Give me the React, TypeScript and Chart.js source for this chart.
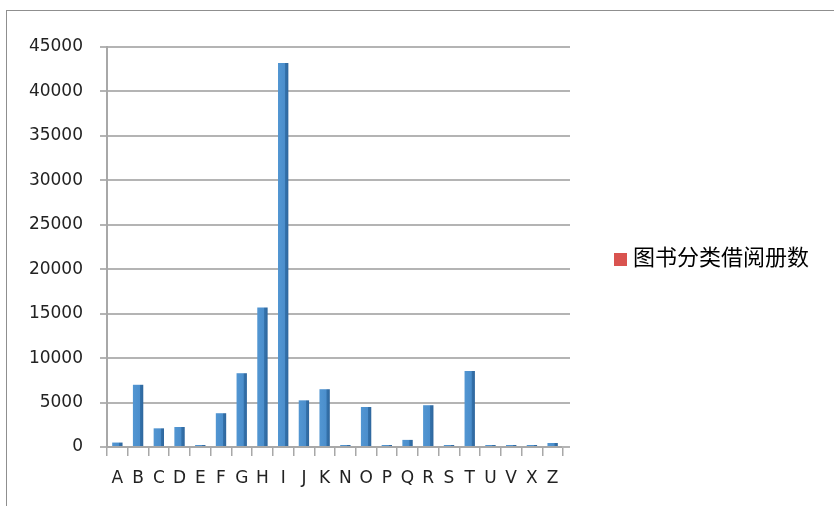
import React, { useEffect, useRef } from "react";
import { Chart, registerables } from "chart.js";

Chart.register(...registerables);

const categories = ["A", "B", "C", "D", "E", "F", "G", "H", "I", "J", "K", "N", "O", "P", "Q", "R", "S", "T", "U", "V", "X", "Z"];
const borrowCounts = [500, 7000, 2100, 2250, 150, 3800, 8300, 15700, 43200, 5250, 6500, 200, 4500, 150, 800, 4700, 200, 8550, 100, 50, 150, 450];
const seriesLabel = "图书分类借阅册数";
const yMax = 45000;
const yStep = 5000;

const framePlugin = {
  id: "frame",
  beforeDraw(chart: any) {
    const ctx = chart.ctx;
    ctx.save();
    ctx.fillStyle = "#ffffff";
    ctx.fillRect(0, 0, chart.width, chart.height);
    ctx.strokeStyle = "#8f8f8f";
    ctx.lineWidth = 1;
    ctx.strokeRect(6.5, 10.5, 2000, 2000);
    ctx.restore();
  },
  beforeDatasetsDraw(chart: any) {
    // extend the back-wall gridlines a little past the category axis (3D depth)
    const ctx = chart.ctx;
    const y = chart.scales.y;
    const right = chart.chartArea.right;
    ctx.save();
    ctx.strokeStyle = "#b4b4b4";
    ctx.lineWidth = 2;
    y.ticks.forEach((t: any) => {
      const py = Math.round(y.getPixelForValue(t.value));
      ctx.beginPath();
      ctx.moveTo(right - 1, py);
      ctx.lineTo(right + 7, py);
      ctx.stroke();
    });
    ctx.restore();
  },
};

const legendPlugin = {
  id: "sideLegend",
  afterDraw(chart: any) {
    const ctx = chart.ctx;
    const label = chart.data.datasets[0].label;
    ctx.save();
    ctx.fillStyle = "#d9534f";
    ctx.fillRect(614, 253, 13, 13);
    ctx.fillStyle = "#000000";
    ctx.font = '22px "Noto Sans CJK SC"';
    ctx.textBaseline = "middle";
    ctx.textAlign = "left";
    ctx.fillText(label, 633, 257);
    ctx.restore();
  },
};

export default function App() {
  const ref = useRef<HTMLCanvasElement | null>(null);
  useEffect(() => {
    document.body.style.margin = "0";
    const canvas = ref.current!;
    const chart = new Chart(canvas, {
      type: "bar",
      data: {
        labels: categories,
        datasets: [
          {
            label: seriesLabel,
            data: borrowCounts,
            backgroundColor: (c: any) => {
              const ch = c.chart;
              if (c.type !== "data" || !ch.chartArea) return "#4a89c8";
              const x = ch.scales.x.getPixelForValue(c.dataIndex);
              const w = ((ch.chartArea.right - ch.chartArea.left) / categories.length) * 0.5;
              const g = ch.ctx.createLinearGradient(x - w / 2, 0, x + w / 2, 0);
              g.addColorStop(0, "#5296d2");
              g.addColorStop(0.66, "#4b8ecc");
              g.addColorStop(0.7, "#3472ab");
              g.addColorStop(1, "#2e669d");
              return g;
            },
            borderWidth: 0,
            barPercentage: 0.5,
            categoryPercentage: 1,
            minBarLength: 2,
          },
        ],
      },
      options: {
        responsive: false,
        animation: false,
        layout: { padding: { left: 8, top: 47, right: 271, bottom: 0 } },
        plugins: { legend: { display: false }, tooltip: { enabled: false } },
        scales: {
          x: {
            offset: true,
            grid: {
              display: true,
              offset: true,
              drawOnChartArea: false,
              drawTicks: true,
              tickLength: 9,
              color: "#a8a8a8",
              lineWidth: 1.5,
            },
            border: { display: true, color: "#a8a8a8", width: 2 },
            ticks: {
              color: "#222222",
              font: { family: '"DejaVu Sans"', size: 17 },
              padding: 12,
              maxRotation: 0,
              autoSkip: false,
            },
            afterFit: (s: any) => {
              s.height = 59;
            },
          },
          y: {
            min: 0,
            max: yMax,
            ticks: {
              stepSize: yStep,
              color: "#222222",
              font: { family: '"DejaVu Sans"', size: 17 },
              padding: 17,
              callback: (v: any) => String(v),
            },
            grid: {
              color: "#b4b4b4",
              lineWidth: 2,
              tickLength: 7,
            },
            border: { display: true, color: "#a8a8a8", width: 2 },
            afterFit: (s: any) => {
              s.width = 99;
            },
          },
        },
      },
      plugins: [framePlugin, legendPlugin],
    });
    return () => chart.destroy();
  }, []);
  return (
    <div style={{ width: 834, height: 506 }}>
      <canvas ref={ref} width={834} height={506} style={{ display: "block" }} />
    </div>
  );
}
